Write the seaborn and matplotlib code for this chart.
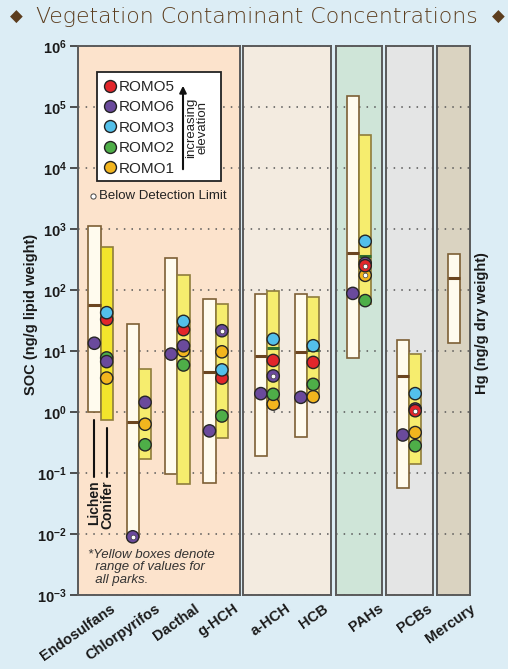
import numpy as np
import pandas as pd
import matplotlib.pyplot as plt
import seaborn as sns
from matplotlib.lines import Line2D
from matplotlib.patches import Rectangle
from matplotlib.ticker import NullLocator
from matplotlib.transforms import blended_transform_factory

# ---------------------------------------------------------------
# Data
# ---------------------------------------------------------------
compounds = ['Endosulfans', 'Chlorpyrifos', 'Dacthal', 'g-HCH', 'a-HCH',
             'HCB', 'PAHs', 'PCBs', 'Mercury']

# lichen range (white boxes) and median
lichen_min = [1.0, 0.009, 0.095, 0.069, 0.19, 0.39, 7.6, 0.056, 13.7]
lichen_max = [1120, 27.7, 339, 71, 87, 85, 153000, 15.1, 390]
lichen_med = [57, 0.69, np.nan, 4.6, 8.4, 9.6, 399, 3.9, 159]

# conifer range, all parks (yellow boxes) and median
conifer_min = [0.73, 0.17, 0.067, 0.37, 1.16, 1.78, 60, 0.139, np.nan]
conifer_max = [513, 5.0, 174, 60, 96, 78, 35100, 8.8, np.nan]
conifer_med = [np.nan, np.nan, np.nan, np.nan, 11.3, 10.4, 366, np.nan, np.nan]

# lichen site value (ROMO6 only)
lichen_romo6 = [13.4, 0.009, 8.9, 0.49, 2.0, 1.74, 88, 0.42, np.nan]

# conifer site values
conifer_romo1 = [3.6, 0.63, 10.1, 9.7, 1.35, 1.78, 174, 0.46, np.nan]
conifer_romo2 = [7.7, 0.29, 5.9, 0.86, 1.95, 2.84, 67, 0.28, np.nan]
conifer_romo6 = [6.7, 1.44, 12.2, 21.5, 3.9, np.nan, 274, 1.12, np.nan]
conifer_romo5 = [33, np.nan, 22.4, 3.6, 7.0, 6.5, 250, 1.05, np.nan]
conifer_romo3 = [42.5, np.nan, 30.6, 4.9, 15.6, 12.2, 628, 2.0, np.nan]

# below detection limit points (tissue, park, compound)
bdl_points = [('Lichen', 'ROMO6', 'Chlorpyrifos'),
              ('Conifer', 'ROMO6', 'g-HCH'),
              ('Conifer', 'ROMO6', 'a-HCH'),
              ('Conifer', 'ROMO5', 'PAHs'),
              ('Conifer', 'ROMO1', 'PAHs'),
              ('Conifer', 'ROMO5', 'PCBs')]

park_colors = {'ROMO5': '#e2262b', 'ROMO6': '#6a4a9c', 'ROMO3': '#53c0ea',
               'ROMO2': '#4eae48', 'ROMO1': '#f2b51e'}
legend_order = ['ROMO5', 'ROMO6', 'ROMO3', 'ROMO2', 'ROMO1']

rows = []
for i, c in enumerate(compounds):
    if not np.isnan(lichen_romo6[i]):
        rows.append(('Lichen', 'ROMO6', c, lichen_romo6[i]))
    # drawing order (last on top)
    for park, vals in [('ROMO1', conifer_romo1), ('ROMO2', conifer_romo2),
                       ('ROMO6', conifer_romo6), ('ROMO5', conifer_romo5),
                       ('ROMO3', conifer_romo3)]:
        if not np.isnan(vals[i]):
            rows.append(('Conifer', park, c, vals[i]))
sites = pd.DataFrame(rows, columns=['tissue', 'park', 'compound', 'value'])
sites['bdl'] = [(t, p, c) in bdl_points for t, p, c in
                zip(sites.tissue, sites.park, sites.compound)]

# ---------------------------------------------------------------
# Layout
# ---------------------------------------------------------------
sns.set_style('ticks')
plt.rcParams['font.family'] = ['Liberation Sans', 'DejaVu Sans']
plt.rcParams['mathtext.fontset'] = 'custom'
plt.rcParams['mathtext.rm'] = 'Liberation Sans'
plt.rcParams['mathtext.bf'] = 'Liberation Sans:bold'

W, H = 508, 669
BG = '#dcedf5'
fig = plt.figure(figsize=(W / 100, H / 100), dpi=100, facecolor=BG)

AX_TOP, AX_BOT = 46, 595
BAR_PX = 12.4
# left px, right px, first pair centre px, px per compound, face colour, compounds
panels = [
    (77.7, 239.7, 100.5, 38.4, '#fce3cc', compounds[0:4]),
    (243.0, 331.0, 267.0, 40.0, '#f3ebe0', compounds[4:6]),
    (335.7, 381.7, 359.0, 38.5, '#cfe5d8', compounds[6:7]),
    (386.0, 432.7, 409.0, 38.5, '#e4e5e5', compounds[7:8]),
    (437.0, 470.0, 460.3, 38.5, '#dad3c1', compounds[8:9]),
]
# horizontal shift (px) of each rotated category label from its pair centre
label_shift = {'Endosulfans': 9, 'Chlorpyrifos': 16, 'Dacthal': 16, 'g-HCH': 17,
               'a-HCH': 18, 'HCB': 16, 'PAHs': 19, 'PCBs': 18, 'Mercury': 9}

LICHEN_FC, LICHEN_EC = '#fffbee', '#7d5f35'
CONIFER_EC = '#8f7d3c'
axes = []
for left, right, c0, unit, face, names in panels:
    ax = fig.add_axes([left / W, 1 - AX_BOT / H, (right - left) / W, (AX_BOT - AX_TOP) / H])
    ax.set_facecolor(face)
    ax.set_yscale('log')
    ax.set_ylim(1e-3, 1e6)
    ax.set_xlim((left - c0) / unit, (right - c0) / unit)
    ax.set_axisbelow(True)
    ax.grid(axis='y', which='major', linestyle=(0, (1, 4)), color='#555555', lw=1.1)
    ax.yaxis.set_minor_locator(NullLocator())
    ax.set_xticks([])
    for s in ax.spines.values():
        s.set_color('#5a5a5a')
        s.set_linewidth(1.4)
    bw = BAR_PX / unit
    idx = [compounds.index(n) for n in names]
    xs = np.arange(len(names))
    lmin = np.array([lichen_min[k] for k in idx])
    lmax = np.array([lichen_max[k] for k in idx])
    cmin = np.array([conifer_min[k] for k in idx])
    cmax = np.array([conifer_max[k] for k in idx])
    ax.bar(xs - bw, lmax - lmin, bottom=lmin, width=bw, align='edge',
           color=LICHEN_FC, edgecolor=LICHEN_EC, lw=1.2, zorder=2)
    ccol = ['#f3e52c' if n == 'Endosulfans' else '#f6ed6e' for n in names]
    ok = ~np.isnan(cmin)
    ax.bar(xs[ok], (cmax - cmin)[ok], bottom=cmin[ok], width=bw, align='edge',
           color=np.array(ccol)[ok], edgecolor=CONIFER_EC, lw=1.2, zorder=2)
    for x, k in zip(xs, idx):
        if not np.isnan(lichen_med[k]):
            ax.hlines(lichen_med[k], x - bw, x, color='#6b4520', lw=2.2, zorder=3)
        if not np.isnan(conifer_med[k]):
            ax.hlines(conifer_med[k], x, x + bw, color='#2f6e2f', lw=2.2, zorder=3)

    sub = sites[sites.compound.isin(names)].copy()
    sub['x'] = [names.index(c) + (-bw / 2 if t == 'Lichen' else bw / 2)
                for c, t in zip(sub.compound, sub.tissue)]
    if len(sub):
        sns.scatterplot(data=sub, x='x', y='value', hue='park', palette=park_colors,
                        s=78, edgecolor='#262626', linewidth=1.0, legend=False,
                        ax=ax, zorder=4)
        b = sub[sub.bdl]
        ax.scatter(b.x, b.value, s=11, c='white', edgecolors='#444444',
                   linewidths=0.5, zorder=5)
    ax.set_xlabel('')
    ax.set_ylabel('')

    trans = blended_transform_factory(ax.transData, ax.transAxes)
    for x, n in zip(xs, names):
        ax.text(x + label_shift[n] / unit, -0.012, n, transform=trans, rotation=35,
                rotation_mode='anchor', ha='right', va='top',
                fontsize=10.5, fontweight='bold', color='#1a1a1a')
    if len(axes) > 0:
        ax.tick_params(axis='y', left=False, labelleft=False)
    axes.append(ax)

ax1 = axes[0]
decades = list(range(-3, 7))
ax1.set_yticks([10.0 ** k for k in decades])
ax1.set_yticklabels([r'$\mathbf{10^{%d}}$' % k for k in decades])
ax1.tick_params(axis='y', which='major', length=6, width=1.2, color='#333333',
                labelsize=10.5, pad=2, labelcolor='#1a1a1a')

# legend box
fx = lambda px: (px - 77.7) / 162.0
fy = lambda py: (AX_BOT - py) / (AX_BOT - AX_TOP)
ax1.add_patch(Rectangle((fx(96.7), fy(181.3)), fx(220.7) - fx(96.7), fy(72.3) - fy(181.3),
                        transform=ax1.transAxes, fc='white', ec='#222222', lw=1.3, zorder=6))
handles = [Line2D([], [], marker='o', ls='', markersize=8.6, markerfacecolor=park_colors[p],
                  markeredgecolor='#222222', markeredgewidth=1.0) for p in legend_order]
leg = ax1.legend(handles, legend_order, loc='upper left',
                 bbox_to_anchor=(fx(102.0), fy(80.0)), frameon=False, fontsize=11,
                 handletextpad=0.1, labelspacing=0.42, borderpad=0, borderaxespad=0,
                 handlelength=1.0)
leg.set_zorder(7)
ax1.annotate('', xy=(fx(183), fy(83)), xytext=(fx(183), fy(172)),
             xycoords='axes fraction',
             arrowprops=dict(arrowstyle='-|>', color='#111111', lw=1.5,
                             mutation_scale=10), zorder=8)
ax1.text(fx(197), fy(128), 'increasing\nelevation', transform=ax1.transAxes,
         rotation=90, ha='center', va='center', fontsize=9.5, linespacing=1.0,
         color='#222222', zorder=8)
ax1.scatter([fx(93)], [fy(196)], s=14, c='white', edgecolors='#444444', linewidths=0.7,
            transform=ax1.transAxes, zorder=6, clip_on=False)
ax1.text(fx(99), fy(196), 'Below Detection Limit', transform=ax1.transAxes,
         ha='left', va='center', fontsize=9.5, color='#222222')

# lichen / conifer pointers
ax1.plot([fx(94.3)] * 2, [fy(420), fy(477)], color='#111111', lw=1.5, transform=ax1.transAxes)
ax1.plot([fx(106.7)] * 2, [fy(428), fy(477)], color='#111111', lw=1.5, transform=ax1.transAxes)
ax1.text(fx(93.8), fy(480), 'Lichen', transform=ax1.transAxes, rotation=90,
         ha='center', va='top', fontsize=10, fontweight='bold', color='#1a1a1a')
ax1.text(fx(107.2), fy(480), 'Conifer', transform=ax1.transAxes, rotation=90,
         ha='center', va='top', fontsize=10, fontweight='bold', color='#1a1a1a')
ax1.text(fx(88), fy(549), '*Yellow boxes denote\n  range of values for\n  all parks.',
         transform=ax1.transAxes, ha='left', va='top', fontsize=9.5, style='italic',
         linespacing=1.05, color='#333333')

# axis labels and title
fig.text(31 / W, 1 - 314 / H, 'SOC (ng/g lipid weight)', rotation=90, ha='center',
         va='center', fontsize=10.5, fontweight='bold', color='#1a1a1a')
fig.text(482 / W, 1 - 323 / H, 'Hg (ng/g dry weight)', rotation=90, ha='center',
         va='center', fontsize=10.5, fontweight='bold', color='#1a1a1a')
TITLE_C = '#5c3d1e'
fig.text(257 / W, 1 - 17 / H, 'Vegetation Contaminant Concentrations', ha='center',
         va='center', fontsize=15.8, color=TITLE_C, family='DejaVu Sans', fontweight='light')
fig.text(16 / W, 1 - 17 / H, '\u25c6', ha='center', va='center', fontsize=12,
         color=TITLE_C, family='DejaVu Sans')
fig.text(498 / W, 1 - 17 / H, '\u25c6', ha='center', va='center', fontsize=12,
         color=TITLE_C, family='DejaVu Sans')

fig.savefig('out.png', dpi=100, facecolor=BG)
